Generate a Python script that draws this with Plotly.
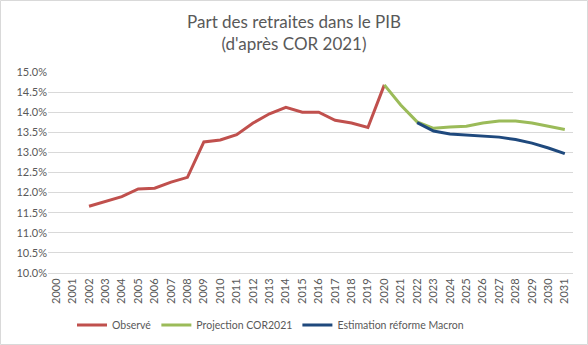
import plotly.graph_objects as go

years = list(range(2000, 2032))
obs_years = list(range(2002, 2021))
obs_vals = [11.66, 11.78, 11.90, 12.09, 12.11, 12.26, 12.38, 13.26, 13.31, 13.44,
            13.73, 13.96, 14.12, 14.00, 14.00, 13.80, 13.73, 13.62, 14.68]
cor_years = list(range(2020, 2032))
cor_vals = [14.68, 14.18, 13.76, 13.60, 13.63, 13.65, 13.73, 13.78, 13.78, 13.73, 13.65, 13.57]
mac_years = list(range(2022, 2032))
mac_vals = [13.74, 13.53, 13.46, 13.43, 13.40, 13.38, 13.32, 13.23, 13.11, 12.97]
ytick_vals = [10.0, 10.5, 11.0, 11.5, 12.0, 12.5, 13.0, 13.5, 14.0, 14.5, 15.0]

W, H = 588, 345
ml, mr, mt, mb = 48, 15, 72, 72
pw, ph = W - ml - mr, H - mt - mb

font = "Lato, 'Open Sans', sans-serif"
grey = "#595959"

fig = go.Figure()
fig.add_trace(go.Scatter(x=obs_years, y=[v / 100 for v in obs_vals], mode="lines",
                         name="Observé", line=dict(color="#C0504D", width=3)))
fig.add_trace(go.Scatter(x=cor_years, y=[v / 100 for v in cor_vals], mode="lines",
                         name="Projection COR2021", line=dict(color="#9BBB59", width=3)))
fig.add_trace(go.Scatter(x=mac_years, y=[v / 100 for v in mac_vals], mode="lines",
                         name="Estimation réforme Macron", line=dict(color="#1F497D", width=3)))

fig.update_layout(
    width=W, height=H,
    margin=dict(l=ml, r=mr, t=mt, b=mb, autoexpand=False),
    paper_bgcolor="white", plot_bgcolor="white",
    font=dict(family=font, color=grey, size=11),
    title=dict(text="Part des retraites dans le PIB<br>(d'après COR 2021)",
               x=0.5, xanchor="center", y=1 - 28 / H, yanchor="middle",
               font=dict(family=font, size=17, color=grey)),
    xaxis=dict(range=[1999.5, 2031.5], tickvals=years, ticktext=[str(y) for y in years],
               tickangle=-90, showgrid=False, zeroline=False, showline=True,
               linecolor="#D9D9D9", linewidth=1, ticks="", tickfont=dict(size=11, color=grey)),
    yaxis=dict(range=[0.10, 0.15], tickvals=[v / 100 for v in ytick_vals],
               ticktext=[f"{v:.1f}%" for v in ytick_vals], showgrid=True,
               gridcolor="#D9D9D9", gridwidth=1, zeroline=False, showline=False,
               ticks="", tickfont=dict(size=11, color=grey)),
    legend=dict(orientation="h", x=(72 - ml) / pw, xanchor="left", y=-52 / ph, yanchor="middle",
                font=dict(size=10.5, color=grey), bgcolor="rgba(0,0,0,0)",
                entrywidth=0, tracegroupgap=0),
    shapes=[dict(type="rect", xref="paper", yref="paper",
                 x0=-(ml - 0.5) / pw, x1=1 + (mr - 0.5) / pw,
                 y0=-(mb - 0.5) / ph, y1=1 + (mt - 0.5) / ph,
                 line=dict(color="#D9D9D9", width=1), layer="below")],
)

fig.write_html("out.html")
